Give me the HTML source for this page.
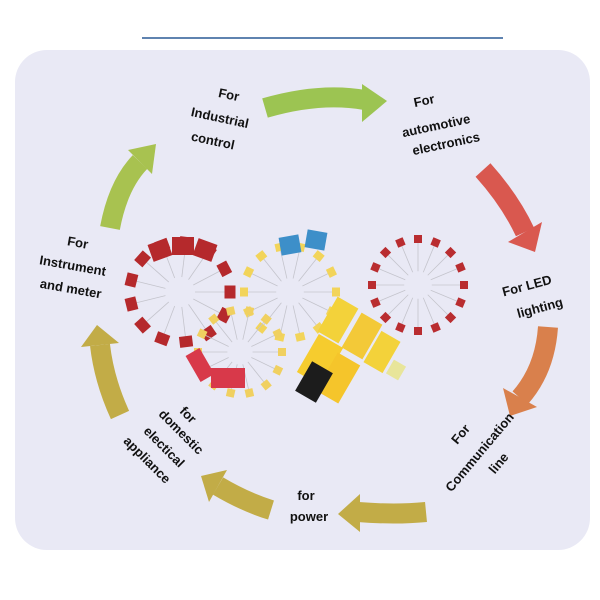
<!DOCTYPE html>
<html><head><meta charset="utf-8"><style>
html,body{margin:0;padding:0;background:#fff;width:600px;height:600px;overflow:hidden}
svg text{font-family:"Liberation Sans",sans-serif;font-weight:bold;font-size:13px;fill:#111}
</style></head><body>
<svg id="s" width="600" height="600" viewBox="0 0 600 600">
<line x1="142" y1="38" x2="503" y2="38" stroke="#2a5a95" stroke-width="1.5"/>
<rect x="15" y="50" width="575" height="500" rx="32" fill="#e9e9f5"/>
<g id="caps"></g>
<g fill="none" stroke-width="20">
<path d="M265 108 Q320 92 365 100" stroke="#9cc452"/>
<path d="M110 228 Q118 185 140 162" stroke="#a8c250"/>
<path d="M483 170 Q510 200 525 232" stroke="#d9584f"/>
<path d="M548 327 Q545 370 520 398" stroke="#d9804c"/>
<path d="M426 512 Q395 515 358 512" stroke="#c2ac47"/>
<path d="M271 510 Q245 502 218 486" stroke="#c2ac47"/>
<path d="M120 415 Q104 380 100 345" stroke="#c2ac47"/>
</g>
<polygon points="362,84 387,101 362,122" fill="#9cc452"/>
<polygon points="152,174 128,150 156,144" fill="#a8c250"/>
<polygon points="542,222 508,242 535,252" fill="#d9584f"/>
<polygon points="537,407 503,388 510,416" fill="#d9804c"/>
<polygon points="360,494 360,532 338,514" fill="#c2ac47"/>
<polygon points="227,470 209,502 201,476" fill="#c2ac47"/>
<polygon points="119,343 81,347 97,325" fill="#c2ac47"/>
<g text-anchor="middle">
<text transform="translate(228,99) rotate(12)">For</text>
<text transform="translate(219,122) rotate(12)">Industrial</text>
<text transform="translate(212,145) rotate(12)">control</text>
<text transform="translate(425,105) rotate(-12)">For</text>
<text transform="translate(437,130) rotate(-12)">automotive</text>
<text transform="translate(447,148) rotate(-12)">electronics</text>
<text transform="translate(77,247) rotate(10)">For</text>
<text transform="translate(72,270) rotate(10)">Instrument</text>
<text transform="translate(70,293) rotate(10)">and meter</text>
<text transform="translate(528,290) rotate(-15)">For LED</text>
<text transform="translate(541,312) rotate(-15)">lighting</text>
<text transform="translate(185,418) rotate(45)">for</text>
<text transform="translate(178,435) rotate(45)">domestic</text>
<text transform="translate(161,450) rotate(45)">electical</text>
<text transform="translate(144,463) rotate(45)">appliance</text>
<text transform="translate(464,437) rotate(-50)">For</text>
<text transform="translate(483,455) rotate(-50)">Communication</text>
<text transform="translate(502,466) rotate(-50)">line</text>
<text x="306" y="500">for</text>
<text x="309" y="521">power</text>
</g>
</svg>
<script>
var g=document.getElementById('caps'),NS='http://www.w3.org/2000/svg';
function r(x,y,w,h,a,c){var e=document.createElementNS(NS,'rect');e.setAttribute('x',-w/2);e.setAttribute('y',-h/2);e.setAttribute('width',w);e.setAttribute('height',h);e.setAttribute('fill',c);e.setAttribute('transform','translate('+x+','+y+') rotate('+a+')');g.appendChild(e);}
function l(x1,y1,x2,y2){var e=document.createElementNS(NS,'line');e.setAttribute('x1',x1);e.setAttribute('y1',y1);e.setAttribute('x2',x2);e.setAttribute('y2',y2);e.setAttribute('stroke','#c4c4cc');e.setAttribute('stroke-width','0.8');g.appendChild(e);}
function ring(cx,cy,R,n,w,h,c){for(var i=0;i<n;i++){var t=i/n*Math.PI*2;l(cx+Math.cos(t)*R,cy+Math.sin(t)*R,cx+Math.cos(t)*R*0.3,cy+Math.sin(t)*R*0.3);}
for(var i=0;i<n;i++){var t=i/n*Math.PI*2;r(cx+Math.cos(t)*R,cy+Math.sin(t)*R,w,h,t*180/Math.PI+90,c);}}
ring(180,292,50,13,13,11,'#b5292c');
ring(290,292,46,14,9,8,'#f2d45a');
ring(418,285,46,16,8,8,'#b92d30');
ring(240,352,42,14,8,8,'#f0d060');
r(290,245,20,18,-10,'#3d8fc9');r(316,240,20,18,10,'#3d8fc9');
r(183,246,22,18,0,'#b5292c');r(160,250,20,18,-20,'#b5292c');r(205,250,20,18,20,'#b5292c');
r(200,365,30,16,60,'#d8394a');r(228,378,34,20,0,'#d8394a');
r(338,320,40,24,-60,'#f3d23a');r(362,336,40,24,-60,'#f3c938');r(382,352,36,22,-60,'#f3d23a');
r(320,360,44,28,-60,'#f6cc2e');r(338,378,44,26,-60,'#f5c52b');
r(314,382,34,24,-60,'#1c1c1c');r(396,370,16,14,-60,'#e8e59a');
</script>
</body></html>
